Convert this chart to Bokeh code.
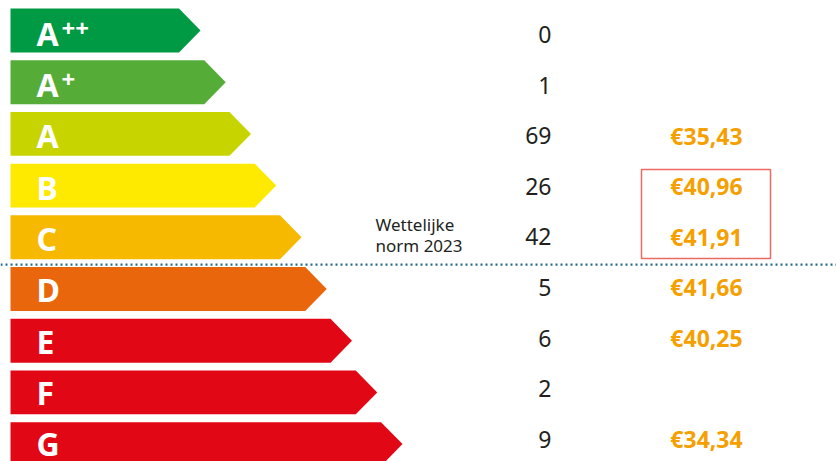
from bokeh.plotting import figure
from bokeh.models import Range1d, ColumnDataSource, Span
from bokeh.core.properties import value
from bokeh.embed import file_html
from bokeh.resources import INLINE

# ---- data ----
classes = ["A", "A", "A", "B", "C", "D", "E", "F", "G"]
superscripts = ["++", "+", "", "", "", "", "", "", ""]
counts = [0, 1, 69, 26, 42, 5, 6, 2, 9]
prices = [None, None, 35.43, 40.96, 41.91, 41.66, 40.25, None, 34.34]
colors = ["#009a44", "#55ad37", "#c8d400", "#fdea00", "#f7b900",
          "#e9660c", "#e10715", "#e10715", "#e10715"]
norm_label = "Wettelijke\nnorm 2023"
norm_after = 4          # legal norm line drawn below class C (index 4)
boxed = [3, 4]          # B and C prices highlighted

# ---- layout constants ----
W, H = 836, 461
row_px = 51.7
top_px = 30.0
x0 = 10
tip0 = 200
tip_step = 25.25
half = 0.425            # half bar height in row units
arrow = 21.5            # arrow depth in px
col_pitch = 0.9787      # text columns are set slightly tighter than the bars
col_shift = 0.077
lab_pitch = 0.993
lab_shift = 0.05

n = len(classes)
p = figure(width=W, height=H,
           x_range=Range1d(0, W),
           y_range=Range1d((H - top_px) / row_px, -top_px / row_px),
           toolbar_location=None, output_backend="svg",
           x_axis_location=None, y_axis_location=None,
           min_border=0, outline_line_color=None)
p.grid.visible = False
p.background_fill_color = "white"
p.border_fill_color = "white"

xs, ys = [], []
for i in range(n):
    tip = tip0 + tip_step * i
    xs.append([x0, tip - arrow, tip, tip - arrow, x0])
    ys.append([i - half, i - half, i, i + half, i + half])
p.patches(xs=xs, ys=ys, fill_color=colors, line_color=None)

rows = list(range(n))
ly = [i * lab_pitch + lab_shift for i in rows]
ty = [i * col_pitch + col_shift for i in rows]

lab_src = ColumnDataSource(dict(y=ly, cls=classes))
sup_idx = [i for i in rows if superscripts[i]]
sup_src = ColumnDataSource(dict(y=[ly[i] for i in sup_idx],
                                sup=[superscripts[i] for i in sup_idx]))
cnt_src = ColumnDataSource(dict(y=ty, cnt=[str(c) for c in counts]))
pr_idx = [i for i in rows if prices[i] is not None]
pr_src = ColumnDataSource(dict(
    y=[ty[i] for i in pr_idx],
    price=["€" + f"{prices[i]:.2f}".replace(".", ",") for i in pr_idx]))

p.text(x=36, y="y", text="cls", source=lab_src, text_color="white",
       text_font=value("Noto Sans"), text_font_style="bold",
       text_font_size="32px", text_baseline="middle")
p.text(x=61, y="y", text="sup", source=sup_src, text_color="white",
       text_font=value("Noto Sans"), text_font_style="bold",
       text_font_size="24px", text_baseline="middle", y_offset=-5)

p.text(x=551, y="y", text="cnt", source=cnt_src, text_color="#231f20",
       text_font=value("Noto Sans"), text_font_size="23px",
       text_align="right", text_baseline="middle")

p.text(x=706, y="y", text="price", source=pr_src, text_color="#f5a000",
       text_font=value("Noto Sans"), text_font_style="bold",
       text_font_size="23px", text_align="center", text_baseline="middle")

p.text(x=[375], y=[norm_after], text=[norm_label], text_color="#231f20",
       text_font=value("Noto Sans"), text_font_size="17px",
       text_baseline="middle", text_line_height=0.92, y_offset=-2)

# highlight box
p.quad(left=[641], right=[770], top=[min(boxed) - 0.31], bottom=[max(boxed) + 0.41],
       fill_color=None, line_color="#ee6a60", line_width=1.5)

# legal norm dotted line
p.add_layout(Span(location=norm_after + 0.53, dimension="width",
                  line_color="#2a6b8a", line_width=2.2, line_dash="2 3"))

open("out.html", "w").write(file_html(p, INLINE))
